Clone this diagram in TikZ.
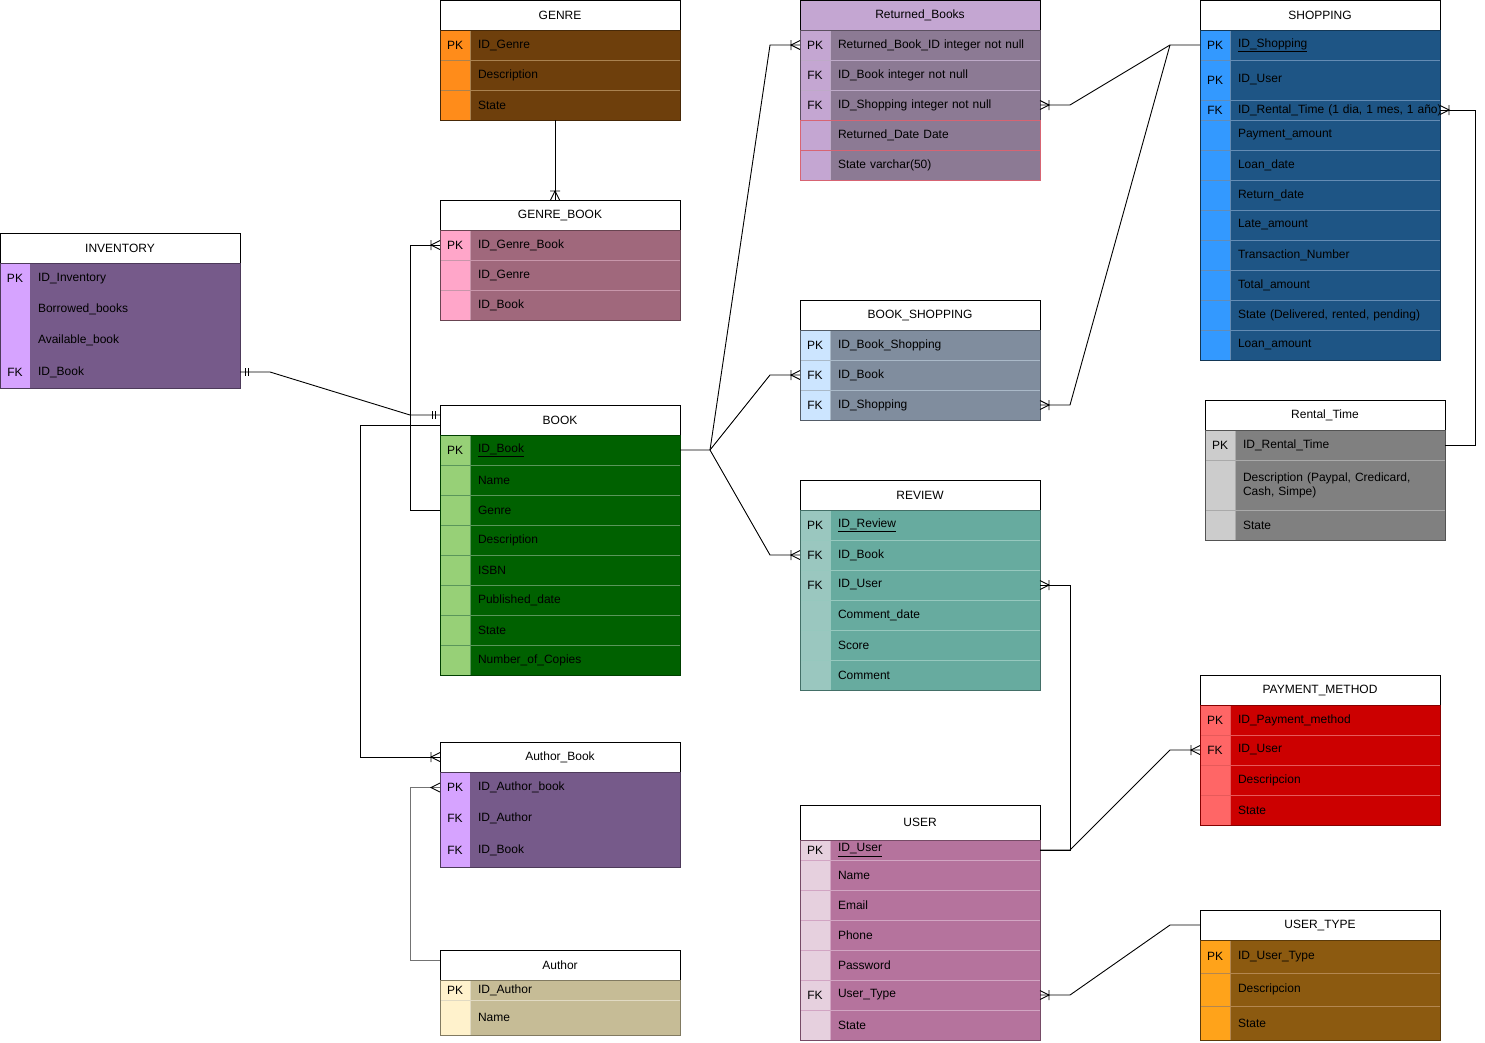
\documentclass[tikz,border=0pt]{standalone}
\usepackage{fontspec}
\setmainfont{Liberation Sans}
\usetikzlibrary{calc}
\definecolor{genreKey}{RGB}{255, 140, 26}
\definecolor{genreMain}{RGB}{110, 63, 12}
\definecolor{genreLine}{RGB}{170, 130, 80}
\definecolor{gbookKey}{RGB}{255, 166, 201}
\definecolor{gbookMain}{RGB}{160, 104, 124}
\definecolor{gbookLine}{RGB}{200, 150, 170}
\definecolor{invKey}{RGB}{214, 163, 255}
\definecolor{invMain}{RGB}{118, 90, 138}
\definecolor{bookKey}{RGB}{151, 208, 119}
\definecolor{bookMain}{RGB}{0, 97, 0}
\definecolor{bookLine}{RGB}{90, 150, 90}
\definecolor{authKey}{RGB}{255, 242, 204}
\definecolor{authMain}{RGB}{198, 188, 150}
\definecolor{authLine}{RGB}{225, 218, 195}
\definecolor{rbKey}{RGB}{196, 166, 210}
\definecolor{rbMain}{RGB}{140, 122, 148}
\definecolor{rbLine}{RGB}{190, 170, 200}
\definecolor{rbRed}{RGB}{215, 100, 115}
\definecolor{bsKey}{RGB}{204, 229, 255}
\definecolor{bsMain}{RGB}{128, 141, 158}
\definecolor{bsLine}{RGB}{170, 185, 200}
\definecolor{revKey}{RGB}{154, 199, 191}
\definecolor{revMain}{RGB}{103, 171, 159}
\definecolor{revLine}{RGB}{150, 200, 190}
\definecolor{userKey}{RGB}{230, 208, 222}
\definecolor{userMain}{RGB}{181, 115, 157}
\definecolor{userLine}{RGB}{210, 165, 195}
\definecolor{shopKey}{RGB}{51, 153, 255}
\definecolor{shopMain}{RGB}{30, 85, 133}
\definecolor{shopLine}{RGB}{100, 140, 180}
\definecolor{rtKey}{RGB}{204, 204, 204}
\definecolor{rtMain}{RGB}{128, 128, 128}
\definecolor{rtLine}{RGB}{170, 170, 170}
\definecolor{payKey}{RGB}{255, 102, 102}
\definecolor{payMain}{RGB}{204, 0, 0}
\definecolor{payLine}{RGB}{230, 90, 90}
\definecolor{utKey}{RGB}{255, 163, 26}
\definecolor{utMain}{RGB}{140, 90, 16}
\definecolor{utLine}{RGB}{180, 135, 80}

% [header opts]{name}{x}{y}{title}{key colour}{main colour}{line colour}{key/text/height,...}
\newcommand{\ertable}[9][]{%
  \node[erhead, alias=#2-k0, #1] (#2) at (#3,#4) {#5};
  \foreach \k/\t/\h [count=\i] in {#9} {
    \pgfmathtruncatemacro\j{\i-1}
    \node[erkey, fill=#6, draw=#8, minimum height=\h] (#2-k\i) at (#2-k\j.south west) {\k};
    \node[errow, fill=#7, draw=#8, minimum height=\h] (#2-\i) at (#2-k\i.north east) {\t};
    \xdef\erlast{\i}
  }
  \draw[#7!65!black] (#2.south west) rectangle (#2-\erlast.south east);
}

\begin{document}
\begin{tikzpicture}[x=1pt, y=-1pt, font=\fontsize{12}{14}\selectfont,
    erhead/.style={draw=black, fill=white, anchor=north west, minimum width=240, minimum height=30, inner sep=0, outer sep=0},
    erkey/.style={anchor=north west, minimum width=30, inner sep=0, outer sep=0},
    errow/.style={anchor=north west, minimum width=210, text width=194, inner xsep=8, inner ysep=0, outer sep=0, align=left},
    conn/.style={draw=black, line width=0.9pt},
    one/.pic={\draw[conn] (5,-4) -- (5,4) (8,-4) -- (8,4);},
    many/.pic={\draw[conn] (0,-4.5) -- (9,0) -- (0,4.5);},
    onemany/.pic={\draw[conn] (0,-4.5) -- (9,0) -- (0,4.5) (9,-5) -- (9,5);}]
  \useasboundingbox (0,0) rectangle (1485,1042);

  % tables
  \ertable{inv}{0}{233}{INVENTORY}{invKey}{invMain}{none}{PK/ID\_Inventory/31, /Borrowed\_books/31, /Available\_book/31, FK/ID\_Book/32}
  \ertable{genre}{440}{0}{GENRE}{genreKey}{genreMain}{genreLine}{PK/ID\_Genre/30, /Description/30, /State/30}
  \ertable{gbook}{440}{200}{GENRE\_BOOK}{gbookKey}{gbookMain}{gbookLine}{PK/ID\_Genre\_Book/30, /ID\_Genre/30, /ID\_Book/30}
  \ertable{book}{440}{405}{BOOK}{bookKey}{bookMain}{bookLine}{PK/\underline{ID\_Book}/30, /Name/30, /Genre/30, /Description/30, /ISBN/30, /Published\_date/30, /State/30, /Number\_of\_Copies/30}
  \ertable{abook}{440}{742}{Author\_Book}{invKey}{invMain}{none}{PK/ID\_Author\_book/31, FK/ID\_Author/31, FK/ID\_Book/33}
  \ertable{author}{440}{950}{Author}{authKey}{authMain}{authLine}{PK/ID\_Author/20, /Name/35}
  \ertable[fill=rbKey]{rb}{800}{0}{Returned\_Books}{rbKey}{rbMain}{rbLine}{PK/Returned\_Book\_ID integer not null/30, FK/ID\_Book integer not null/30, FK/ID\_Shopping integer not null/30, /Returned\_Date Date/30, /State varchar(50)/30}
  \draw[rbRed] (rb-k4.north west) rectangle (rb-5.south east) (rb-k5.north west) -- (rb-5.north east);
  \ertable{bs}{800}{300}{BOOK\_SHOPPING}{bsKey}{bsMain}{bsLine}{PK/ID\_Book\_Shopping/30, FK/ID\_Book/30, FK/ID\_Shopping/30}
  \ertable{rev}{800}{480}{REVIEW}{revKey}{revMain}{revLine}{PK/\underline{ID\_Review}/30, FK/ID\_Book/30, FK/ID\_User/30, /Comment\_date/30, /Score/30, /Comment/30}
  \ertable[minimum height=35]{user}{800}{805}{USER}{userKey}{userMain}{userLine}{PK/\underline{ID\_User}/20, /Name/30, /Email/30, /Phone/30, /Password/30, FK/User\_Type/30, /State/30}
  \ertable{shop}{1200}{0}{SHOPPING}{shopKey}{shopMain}{shopLine}{PK/\underline{ID\_Shopping}/30, PK/ID\_User/40, FK/{\mbox{ID\_Rental\_Time (1 dia, 1 mes, 1 año)}}/20, /Payment\_amount/30, /Loan\_date/30, /Return\_date/30, /Late\_amount/30, /Transaction\_Number/30, /Total\_amount/30, /{State (Delivered, rented, pending)}/30, /Loan\_amount/30}
  \ertable{rt}{1205}{400}{Rental\_Time}{rtKey}{rtMain}{rtLine}{PK/ID\_Rental\_Time/30, /{Description (Paypal, Credicard,\\Cash, Simpe)}/50, /State/30}
  \ertable{pay}{1200}{675}{PAYMENT\_METHOD}{payKey}{payMain}{payLine}{PK/ID\_Payment\_method/30, FK/ID\_User/30, /Descripcion/30, /State/30}
  \ertable{utype}{1200}{910}{USER\_TYPE}{utKey}{utMain}{utLine}{PK/ID\_User\_Type/33, /Descripcion/33, /State/34}

  % relations around BOOK
  \coordinate (bookin) at ($(book.north west)+(0,10)$);
  \draw[conn] (inv-4.east) -- ++(30,0) -- ($(bookin)+(-30,0)$) -- (bookin);
  \pic at (inv-4.east) {one};
  \pic[rotate=180] at (bookin) {one};
  \draw[conn] ($(genre-k3.south west)+(115,0)$) -- ($(gbook.north west)+(115,0)$);
  \pic[rotate=90] at ($(gbook.north west)+(115,0)$) {onemany};
  \draw[conn] (book-k3.west) -- ++(-30,0) |- (gbook-k1.west);
  \pic[rotate=180] at (gbook-k1.west) {onemany};
  \draw[conn] ($(book.west)+(0,5)$) -- ++(-80,0) |- (abook.west);
  \pic[rotate=180] at (abook.west) {onemany};
  \draw[conn, draw=black!55] ($(author.west)+(0,-5)$) -- ++(-30,0) |- (abook-k1.west);
  \pic[rotate=180] at (abook-k1.west) {many};

  % ID_Book fan out
  \coordinate (hub) at ($(book-1.east)+(30,0)$);
  \draw[conn] (book-1.east) -- (hub) -- ($(rb-k1.west)+(-30,0)$) -- (rb-k1.west);
  \draw[conn] (hub) -- ($(bs-k2.west)+(-30,0)$) -- (bs-k2.west);
  \draw[conn] (hub) -- ($(rev-k2.west)+(-30,0)$) -- (rev-k2.west);
  \foreach \n in {rb-k1, bs-k2, rev-k2}
    \pic[rotate=180] at (\n.west) {onemany};

  % SHOPPING
  \coordinate (shopin) at ($(shop-k1.west)+(-30,0)$);
  \draw[conn] (rb-3.east) -- ++(30,0) -- (shopin) -- (shop-k1.west);
  \draw[conn] (bs-3.east) -- ++(30,0) -- (shopin);
  \draw[conn] (shop-3.east) -- ++(35,0) |- (rt-1.east);
  \foreach \n in {rb-3, bs-3, shop-3}
    \pic at (\n.east) {onemany};

  % USER
  \draw[conn] (rev-3.east) -- ++(30,0) |- (user-1.east);
  \pic at (rev-3.east) {onemany};
  \draw[conn] (user-1.east) -- ++(30,0) -- ($(pay-k2.west)+(-30,0)$) -- (pay-k2.west);
  \pic[rotate=180] at (pay-k2.west) {onemany};
  \draw[conn] (user-6.east) -- ++(30,0) -- ($(utype.west)+(-30,0)$) -- (utype.west);
  \pic at (user-6.east) {onemany};
\end{tikzpicture}
\end{document}
